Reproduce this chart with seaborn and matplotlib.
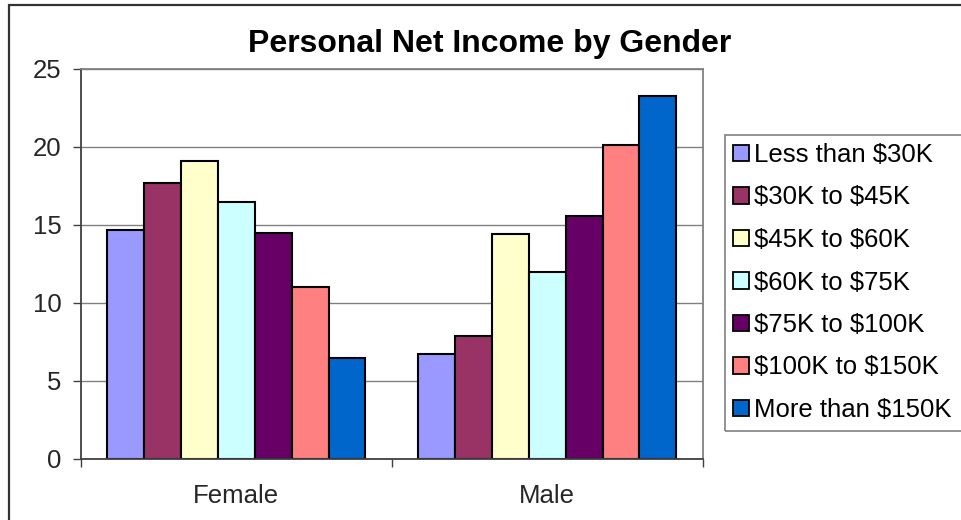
import matplotlib
matplotlib.use("Agg")
import matplotlib.pyplot as plt
from matplotlib.patches import Patch, Rectangle
import seaborn as sns
import pandas as pd

genders = ["Female", "Male"]
brackets = ["Less than $30K", "$30K to $45K", "$45K to $60K", "$60K to $75K",
            "$75K to $100K", "$100K to $150K", "More than $150K"]
female_vals = [14.7, 17.7, 19.1, 16.5, 14.5, 11.0, 6.5]
male_vals = [6.7, 7.9, 14.4, 12.0, 15.6, 20.1, 23.3]
colors = ["#9999FF", "#993366", "#FFFFCC", "#CCFFFF", "#660066", "#FF8080", "#0066CC"]
yticks = [0, 5, 10, 15, 20, 25]

rows = []
for g, vals in zip(genders, [female_vals, male_vals]):
    for b, v in zip(brackets, vals):
        rows.append({"Gender": g, "Bracket": b, "Value": v})
df = pd.DataFrame(rows)

sns.set_theme(style="white")
plt.rcParams["font.family"] = ["Liberation Sans", "DejaVu Sans"]
plt.rcParams["text.color"] = "black"

W, H = 961, 520
fig = plt.figure(figsize=(W / 100, H / 100), dpi=100)
fig.patch.set_facecolor("white")
ax = fig.add_axes([81 / W, (H - 459) / H, (702.7 - 81) / W, 390 / H])

sns.barplot(data=df, x="Gender", y="Value", hue="Bracket", order=genders,
            hue_order=brackets, palette=colors, width=0.83, gap=0,
            edgecolor="black", linewidth=1.5, saturation=1, legend=False, ax=ax)

ax.set_xlim(-0.5, 1.5)
ax.set_ylim(0, 25)
ax.set_yticks(yticks)
ax.set_yticklabels([str(t) for t in yticks], fontsize=18.5)
ax.yaxis.grid(True, color="#808080", linewidth=1.0)
ax.set_axisbelow(True)
ax.set_xlabel("")
ax.set_ylabel("")

ax.set_xticks([0, 1])
ax.set_xticklabels(genders, fontsize=18.5)
ax.set_xticks([-0.5, 0.5, 1.5], minor=True)
ax.tick_params(axis="x", which="major", length=0, pad=18)
ax.tick_params(axis="x", which="minor", length=6, width=1, color="#404040", direction="out", bottom=True)
ax.tick_params(axis="y", which="major", length=6, width=1, color="#404040", direction="out", left=True, pad=8)

for s in ["left", "bottom"]:
    ax.spines[s].set_color("#404040")
    ax.spines[s].set_linewidth(1.3)
for s in ["top", "right"]:
    ax.spines[s].set_color("#808080")
    ax.spines[s].set_linewidth(1.3)
    ax.spines[s].set_visible(True)

fig.text(490 / W, 1 - 44 / H, "Personal Net Income by Gender", ha="center", va="center",
         fontsize=23, fontweight="bold")

handles = [Patch(facecolor=c, edgecolor="black", linewidth=1.3) for c in colors]
labels = [b.replace("$", r"\$") for b in brackets]
leg = fig.legend(handles, labels, loc="upper left",
                 bbox_to_anchor=(733 / W, 1 - 143 / H),
                 borderaxespad=0, borderpad=0, fontsize=18.5, frameon=False,
                 handlelength=0.62, handleheight=0.62,
                 handletextpad=0.2, labelspacing=0.72)

fig.add_artist(Rectangle((725 / W, 1 - 430.7 / H), 0.3, (430.7 - 134.7) / H,
                         transform=fig.transFigure, fill=False,
                         edgecolor="#808080", linewidth=1.2))

fig.add_artist(Rectangle((9 / W, -0.1), 1.2, (H - 5) / H + 0.1, transform=fig.transFigure,
                         fill=False, edgecolor="#333333", linewidth=1.6))

fig.savefig("out.png", dpi=100)
